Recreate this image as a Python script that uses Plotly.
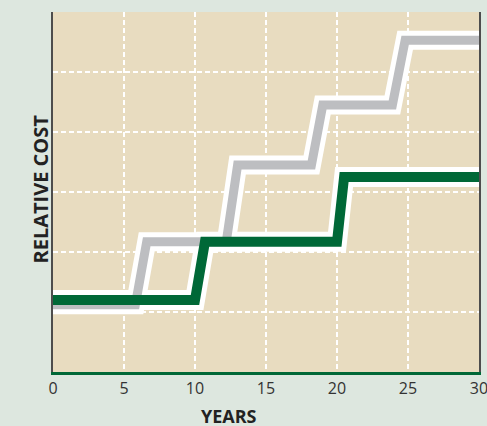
import plotly.graph_objects as go

# ---- data ----
x_ticks = [0, 5, 10, 15, 20, 25, 30]
green_years = [0, 10.0, 10.7, 20.0, 20.5, 30]
green_cost = [1.2, 1.2, 2.17, 2.17, 3.25, 3.25]
gray_years = [0, 5.8, 6.6, 12.2, 13.0, 18.2, 19.0, 23.9, 24.8, 30]
gray_cost = [1.12, 1.12, 2.17, 2.17, 3.45, 3.45, 4.45, 4.45, 5.53, 5.53]

PAPER = "#dde7df"
PLOT = "#e8dcc0"
GRAY = "#bdbec1"
GREEN = "#006837"

fig = go.Figure()
# white outlines
fig.add_trace(go.Scatter(x=gray_years, y=gray_cost, mode="lines",
                         line=dict(color="white", width=19), hoverinfo="skip"))
fig.add_trace(go.Scatter(x=green_years, y=green_cost, mode="lines",
                         line=dict(color="white", width=20), hoverinfo="skip"))
# coloured lines
fig.add_trace(go.Scatter(x=gray_years, y=gray_cost, mode="lines",
                         line=dict(color=GRAY, width=9)))
fig.add_trace(go.Scatter(x=green_years, y=green_cost, mode="lines",
                         line=dict(color=GREEN, width=10)))

fig.update_layout(
    width=487, height=426,
    margin=dict(l=53, r=8, t=12, b=54, autoexpand=False),
    paper_bgcolor=PAPER, plot_bgcolor=PLOT,
    showlegend=False,
    font=dict(family="Open Sans", color="#333333"),
    xaxis=dict(range=[0, 30], tickvals=x_ticks, ticktext=[str(v) for v in x_ticks],
               showgrid=True, gridcolor="white", gridwidth=1.5, griddash="5px,3px",
               showline=True, linecolor=GREEN, linewidth=3, mirror=False,
               ticks="", tickfont=dict(size=16, color="#333333"), zeroline=False,
               automargin=False, ticklabeloverflow="allow", fixedrange=True),
    yaxis=dict(range=[0, 6], dtick=1, showticklabels=False,
               showgrid=True, gridcolor="white", gridwidth=1.5, griddash="5px,3px",
               showline=True, linecolor="#4d4d4d", linewidth=2, mirror=True,
               ticks="", zeroline=False, automargin=False, fixedrange=True),
    annotations=[
        dict(text="<b>YEARS</b>", xref="x", yref="paper", x=12.4, y=-0.122,
             xanchor="center", yanchor="middle", showarrow=False,
             font=dict(size=18, color="#222222", family="Open Sans")),
        dict(text="<b>RELATIVE COST</b>", xref="paper", yref="paper", x=-0.0305, y=0.507,
             xanchor="center", yanchor="middle", textangle=-90, showarrow=False,
             font=dict(size=20, color="#222222", family="Open Sans")),
    ],
)

fig.write_html("out.html", config={"displayModeBar": False},
               post_script="document.body.style.margin='0';document.body.style.overflow='hidden';")
